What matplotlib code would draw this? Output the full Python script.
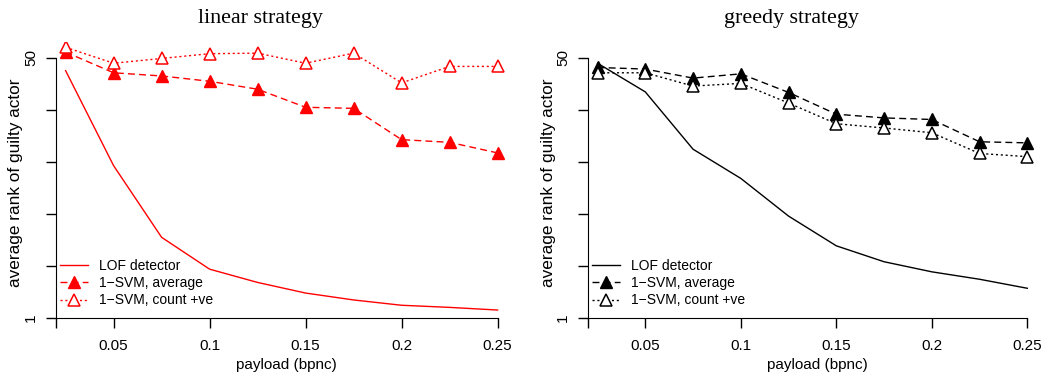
import numpy as np
import matplotlib.pyplot as plt

payload = [0.025, 0.05, 0.075, 0.1, 0.125, 0.15, 0.175, 0.2, 0.225, 0.25]

# linear strategy
lin_lof = [47.6, 29.7, 16.2, 10.2, 7.7, 5.7, 4.4, 3.4, 3.0, 2.5]
lin_avg = [51.1, 47.2, 46.6, 45.6, 44.1, 40.7, 40.5, 34.6, 34.1, 32.1]
lin_cnt = [52.0, 49.0, 49.9, 50.8, 50.9, 49.0, 50.9, 45.3, 48.4, 48.4]

# greedy strategy
grd_lof = [49.0, 43.6, 32.8, 27.3, 20.2, 14.6, 11.6, 9.7, 8.3, 6.6]
grd_avg = [48.2, 47.9, 46.2, 47.0, 43.5, 39.4, 38.7, 38.4, 34.2, 34.0]
grd_cnt = [47.2, 47.2, 44.7, 45.2, 41.5, 37.6, 36.8, 35.9, 32.0, 31.4]

xticks = [0.02, 0.05, 0.1, 0.15, 0.2, 0.25]
xlabels = ["", "0.05", "0.1", "0.15", "0.2", "0.25"]
yticks = np.linspace(1, 50, 6)
ylabels = ["1", "", "", "", "", "50"]

plt.rcParams["font.family"] = "Liberation Sans"

fig = plt.figure(figsize=(10.49, 3.82), dpi=100)
W, H = 1049, 382


def panel(left_px, scale, title, color, lof, avg, cnt, ylab_px):
    x0 = 0.02
    x1 = 0.26
    bottom_px = 318
    top_px = 42
    width_px = (x1 - x0) * scale
    height_px = bottom_px - top_px
    ax = fig.add_axes([left_px / W, (H - bottom_px) / H, width_px / W, height_px / H])
    ax.plot(payload, lof, color=color, lw=1, label="LOF detector")
    ax.plot(payload, avg, color=color, lw=1, ls=(0, (5, 3)), marker="^",
            ms=8, mfc=color, mec=color, label="1\u2212SVM, average")
    ax.plot(payload, cnt, color=color, lw=1, ls=(0, (1.5, 2)), marker="^",
            ms=8, mfc="white", mec=color, mew=1.1, label="1\u2212SVM, count +ve")
    ax.set_xlim(x0, x1)
    ax.set_ylim(1, 53)
    ax.spines["top"].set_visible(False)
    ax.spines["right"].set_visible(False)
    ax.spines["left"].set_bounds(1, 50)
    ax.spines["bottom"].set_bounds(0.02, 0.25)
    ax.set_xticks(xticks)
    ax.set_xticklabels(xlabels, fontsize=11)
    ax.set_yticks(yticks)
    ax.set_yticklabels(ylabels, fontsize=11, rotation=90, va="center")
    ax.tick_params(length=7, width=1, pad=8)
    ax.tick_params(axis="y", pad=6)
    ax.set_xlabel("payload (bpnc)", fontsize=11)
    ax.set_ylabel("average rank of guilty actor", fontsize=12.4, va="center")
    ax.yaxis.set_label_coords((ylab_px - left_px) / width_px, 0.49)
    ax.text((left_px + width_px / 2 - 26 - left_px) / width_px, (bottom_px - 23) / height_px,
            title, transform=ax.transAxes, ha="center", va="baseline",
            fontsize=15.8, family="Liberation Serif")
    ax.legend(loc="lower left", frameon=False, fontsize=10, handlelength=2.0,
              borderaxespad=0.2, labelspacing=0.25, handletextpad=0.8,
              bbox_to_anchor=(-0.009, 0.008))
    return ax


panel(56, 1920, "linear strategy", "red", lin_lof, lin_avg, lin_cnt, 16)
panel(588, 1910, "greedy strategy", "black", grd_lof, grd_avg, grd_cnt, 549)

fig.savefig("out.png", dpi=100)
